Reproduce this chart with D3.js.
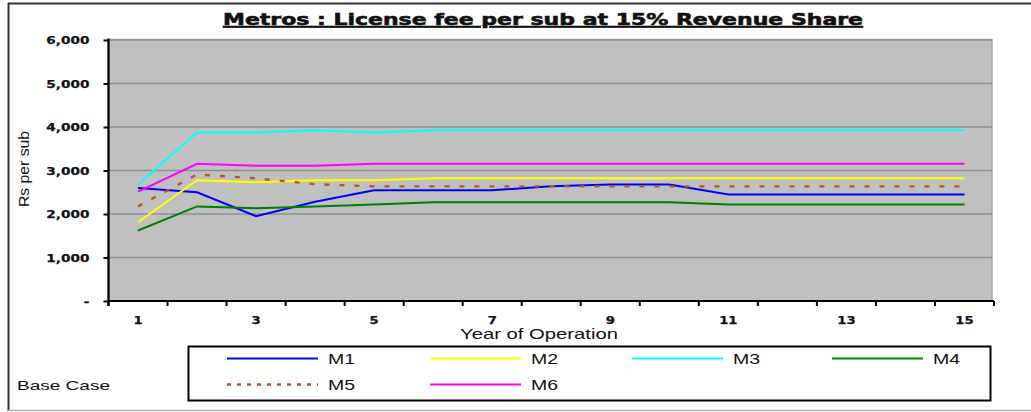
<!DOCTYPE html>
<html>
<head>
<meta charset="utf-8">
<script src="https://cdn.jsdelivr.net/npm/d3@7"></script>
<style>
  html, body { margin: 0; padding: 0; background: #ffffff; }
  svg { display: block; }
</style>
</head>
<body>
<svg id="chart" width="1031" height="412"></svg>
<script>
// Years of operation and licence fee per subscriber (Rs) for each metro
const years = [1, 2, 3, 4, 5, 6, 7, 8, 9, 10, 11, 12, 13, 14, 15];
const yearLabels = ["1", "3", "5", "7", "9", "11", "13", "15"];
const yTicks = [0, 1000, 2000, 3000, 4000, 5000, 6000];

const m1 = [2600, 2500, 1950, 2280, 2545, 2545, 2545, 2640, 2680, 2680, 2450, 2450, 2450, 2450, 2450];
const m2 = [1810, 2775, 2730, 2775, 2775, 2820, 2820, 2820, 2820, 2820, 2820, 2820, 2820, 2820, 2820];
const m3 = [2680, 3875, 3875, 3925, 3875, 3925, 3925, 3925, 3925, 3925, 3925, 3925, 3925, 3925, 3925];
const m4 = [1620, 2175, 2130, 2175, 2220, 2270, 2270, 2270, 2270, 2270, 2220, 2220, 2220, 2220, 2220];
const m5 = [2175, 2910, 2820, 2685, 2635, 2635, 2635, 2635, 2635, 2635, 2635, 2635, 2635, 2635, 2635];
const m6 = [2515, 3155, 3110, 3110, 3155, 3155, 3155, 3155, 3155, 3155, 3155, 3155, 3155, 3155, 3155];

const seriesNames = ["M1", "M2", "M3", "M4", "M5", "M6"];
const seriesValues = [m1, m2, m3, m4, m5, m6];
const seriesColors = ["#0000ff", "#ffff00", "#00ffff", "#008000", "#b8561f", "#ff00ff"];
const seriesDash = [null, null, null, null, "5,10", null];

const svg = d3.select("#chart");

// stretch a text element horizontally to a wider face
function widen(sel, k) {
  sel.each(function () {
    const w = this.getComputedTextLength();
    d3.select(this).attr("textLength", w * k).attr("lengthAdjust", "spacingAndGlyphs");
  });
}

// outer frame
svg.append("line").attr("x1", 8).attr("x2", 1031).attr("y1", 3.5).attr("y2", 3.5)
  .attr("stroke", "#333").attr("stroke-width", 2);
svg.append("line").attr("x1", 8.5).attr("x2", 8.5).attr("y1", 3).attr("y2", 411)
  .attr("stroke", "#333").attr("stroke-width", 2);
svg.append("line").attr("x1", 8).attr("x2", 1031).attr("y1", 410.5).attr("y2", 410.5)
  .attr("stroke", "#b0b0b0").attr("stroke-width", 1.5);

const plot = { left: 108.5, right: 992, top: 39.5, bottom: 301 };

const x = d3.scaleBand().domain(years).range([plot.left, plot.right + 2]).paddingInner(0).paddingOuter(0);
const y = d3.scaleLinear().domain([0, 6000]).range([plot.bottom, plot.top + 0.5]);
const xc = d => x(d) + x.bandwidth() / 2;

// plot area
svg.append("rect")
  .attr("x", plot.left).attr("y", plot.top)
  .attr("width", plot.right - plot.left).attr("height", plot.bottom - plot.top)
  .attr("fill", "#c0c0c0").attr("stroke", "#a6a6a6").attr("stroke-width", 1.5);

// horizontal gridlines
svg.append("g").selectAll("line").data(yTicks.filter(t => t > 0)).join("line")
  .attr("x1", plot.left).attr("x2", plot.right)
  .attr("y1", d => y(d)).attr("y2", d => y(d))
  .attr("stroke", "#8f8f8f").attr("stroke-width", 1.6);

// y axis
const yAxis = svg.append("g")
  .attr("transform", `translate(${plot.left},0)`)
  .call(d3.axisLeft(y).tickValues(yTicks).tickSize(5).tickPadding(14)
    .tickFormat(d => d === 0 ? "-" : d3.format(",")(d)));
yAxis.select(".domain").attr("stroke", "#000").attr("stroke-width", 2.2)
  .attr("d", `M0,${plot.top - 1}V${plot.bottom + 5}`);
yAxis.selectAll(".tick line").attr("stroke", "#000").attr("stroke-width", 2);
yAxis.selectAll(".tick text")
  .attr("font-family", "DejaVu Sans, sans-serif").attr("font-weight", "bold")
  .attr("font-size", 10.5).attr("fill", "#111").attr("dy", "0.35em")
  .attr("stroke", "#111").attr("stroke-width", 0.25);
yAxis.selectAll(".tick text").call(widen, 1.3);

// x axis: ticks sit between the year bands, labels on every other year
const xAxis = svg.append("g")
  .attr("transform", `translate(0,${plot.bottom})`)
  .call(d3.axisBottom(x).tickSize(0).tickPadding(16)
    .tickFormat(d => yearLabels.includes(String(d)) ? String(d) : ""));
xAxis.select(".domain").attr("stroke", "#000").attr("stroke-width", 2.2)
  .attr("d", `M${plot.left},0H${plot.right + 2}`);
xAxis.selectAll(".tick text")
  .attr("font-family", "DejaVu Sans, sans-serif").attr("font-weight", "bold")
  .attr("font-size", 10.5).attr("fill", "#111")
  .attr("stroke", "#111").attr("stroke-width", 0.25);
xAxis.selectAll(".tick text").call(widen, 1.25);
xAxis.append("g").selectAll("line").data(years.concat([16])).join("line")
  .attr("x1", d => d <= 15 ? x(d) : x(15) + x.bandwidth())
  .attr("x2", d => d <= 15 ? x(d) : x(15) + x.bandwidth())
  .attr("y1", 0).attr("y2", 5)
  .attr("stroke", "#000").attr("stroke-width", 2);

// series lines
const line = d3.line().x((d, i) => xc(years[i])).y(d => y(d));
svg.append("g").selectAll("path").data(seriesValues).join("path")
  .attr("d", d => line(d))
  .attr("fill", "none")
  .attr("stroke", (d, i) => seriesColors[i])
  .attr("stroke-width", (d, i) => i === 4 ? 2.4 : 2)
  .attr("stroke-dasharray", (d, i) => seriesDash[i]);

// title
const title = svg.append("text")
  .attr("x", 543).attr("y", 25)
  .attr("text-anchor", "middle")
  .attr("font-family", "DejaVu Sans, sans-serif").attr("font-weight", "bold")
  .attr("font-size", 16.5).attr("fill", "#111")
  .attr("stroke", "#111").attr("stroke-width", 0.6)
  .attr("text-decoration", "underline")
  .text("Metros : License fee per sub at 15% Revenue Share");
title.attr("textLength", 640).attr("lengthAdjust", "spacingAndGlyphs");

// axis titles
svg.append("text")
  .attr("transform", "translate(29,169) rotate(-90)")
  .attr("text-anchor", "middle")
  .attr("font-family", "Liberation Sans, Arial, sans-serif")
  .attr("font-size", 15).attr("fill", "#111")
  .text("Rs per sub")
  .attr("textLength", 76).attr("lengthAdjust", "spacingAndGlyphs");

svg.append("text")
  .attr("x", 539).attr("y", 339)
  .attr("text-anchor", "middle")
  .attr("font-family", "Liberation Sans, Arial, sans-serif")
  .attr("font-size", 14.5).attr("fill", "#111")
  .text("Year of Operation")
  .attr("textLength", 158).attr("lengthAdjust", "spacingAndGlyphs");

// legend
const legend = svg.append("g");
legend.append("rect")
  .attr("x", 188.5).attr("y", 346.5).attr("width", 802).attr("height", 54)
  .attr("fill", "#fff").attr("stroke", "#000").attr("stroke-width", 2);

const legendCols = [227, 430, 632, 832];
const legendRows = [358.5, 384.5];
const items = legend.selectAll("g.item").data(seriesNames).join("g").attr("class", "item")
  .attr("transform", (d, i) => `translate(${legendCols[i % 4]},${legendRows[Math.floor(i / 4)]})`);
items.append("line")
  .attr("x1", 0).attr("x2", 91).attr("y1", 0).attr("y2", 0)
  .attr("stroke", (d, i) => seriesColors[i])
  .attr("stroke-width", (d, i) => i === 4 ? 2.4 : 2)
  .attr("stroke-dasharray", (d, i) => i === 4 ? "4,6" : null);
items.append("text")
  .attr("x", 101).attr("y", 0).attr("dy", "0.36em")
  .attr("font-family", "Liberation Sans, Arial, sans-serif")
  .attr("font-size", 15).attr("fill", "#111")
  .text(d => d)
  .call(widen, 1.3);

svg.append("text")
  .attr("x", 17).attr("y", 385).attr("dy", "0.36em")
  .attr("font-family", "Liberation Sans, Arial, sans-serif")
  .attr("font-size", 13).attr("fill", "#111")
  .text("Base Case")
  .attr("textLength", 93).attr("lengthAdjust", "spacingAndGlyphs");
</script>
</body>
</html>
